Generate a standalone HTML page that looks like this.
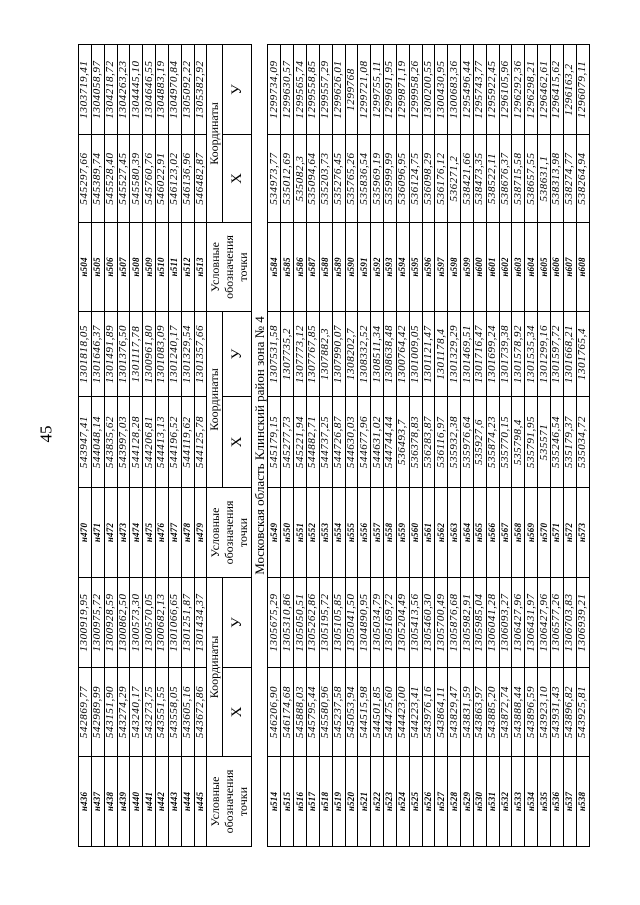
<!DOCTYPE html>
<html><head><meta charset="utf-8">
<style>
html,body{margin:0;padding:0;background:#fff;}
body{width:640px;height:905px;position:relative;overflow:hidden;}
#wrap{position:absolute;left:78px;top:847px;width:802px;height:511px;transform-origin:0 0;transform:rotate(-90deg);}
table{border-collapse:collapse;table-layout:fixed;width:802px;height:511px;font-family:"Liberation Serif",serif;color:#000;}
td{border:1px solid #000;padding:0;text-align:center;vertical-align:middle;overflow:hidden;white-space:nowrap;line-height:11px;}
tr.d td{height:11.85px;font-style:italic;font-size:11px;letter-spacing:0.6px;}
tr.d td.n{font-weight:bold;font-size:9px;letter-spacing:0.2px;}
.h{font-size:12px;line-height:14px;white-space:normal;}
.k{font-size:12px;height:15px;}
.xy{font-size:15px;height:28px;}
.band td{height:15px;font-size:13px;border-left:none;border-right:none;}
#pg{position:absolute;left:38px;top:424px;font-family:"Liberation Serif",serif;font-size:17px;transform:rotate(-90deg);}
</style></head><body>
<div id="pg">45</div>
<div id="wrap">
<table>
<colgroup><col style="width:90px"><col style="width:89px"><col style="width:90px"><col style="width:90px"><col style="width:91px"><col style="width:85px"><col style="width:89px"><col style="width:88px"><col style="width:90px"></colgroup>
<tr class="d"><td class="n">н436</td><td>542869,77</td><td>1300919,95</td><td class="n">н470</td><td>543947,41</td><td>1301818,05</td><td class="n">н504</td><td>545297,66</td><td>1303719,41</td></tr>
<tr class="d"><td class="n">н437</td><td>542989,99</td><td>1300975,72</td><td class="n">н471</td><td>544048,14</td><td>1301646,37</td><td class="n">н505</td><td>545389,74</td><td>1304058,97</td></tr>
<tr class="d"><td class="n">н438</td><td>543151,90</td><td>1300928,59</td><td class="n">н472</td><td>543835,62</td><td>1301491,89</td><td class="n">н506</td><td>545528,40</td><td>1304218,72</td></tr>
<tr class="d"><td class="n">н439</td><td>543274,29</td><td>1300862,50</td><td class="n">н473</td><td>543997,03</td><td>1301376,50</td><td class="n">н507</td><td>545527,45</td><td>1304263,23</td></tr>
<tr class="d"><td class="n">н440</td><td>543240,17</td><td>1300573,30</td><td class="n">н474</td><td>544128,28</td><td>1301117,78</td><td class="n">н508</td><td>545580,39</td><td>1304445,10</td></tr>
<tr class="d"><td class="n">н441</td><td>543273,75</td><td>1300570,05</td><td class="n">н475</td><td>544206,81</td><td>1300961,80</td><td class="n">н509</td><td>545760,76</td><td>1304646,55</td></tr>
<tr class="d"><td class="n">н442</td><td>543551,55</td><td>1300682,13</td><td class="n">н476</td><td>544413,13</td><td>1301083,09</td><td class="n">н510</td><td>546022,91</td><td>1304883,19</td></tr>
<tr class="d"><td class="n">н443</td><td>543558,05</td><td>1301066,65</td><td class="n">н477</td><td>544196,52</td><td>1301240,17</td><td class="n">н511</td><td>546123,02</td><td>1304970,84</td></tr>
<tr class="d"><td class="n">н444</td><td>543605,16</td><td>1301251,87</td><td class="n">н478</td><td>544119,62</td><td>1301329,54</td><td class="n">н512</td><td>546136,96</td><td>1305092,22</td></tr>
<tr class="d"><td class="n">н445</td><td>543672,86</td><td>1301434,37</td><td class="n">н479</td><td>544125,78</td><td>1301357,66</td><td class="n">н513</td><td>546482,87</td><td>1305382,92</td></tr>
<tr><td rowspan="2" class="h">Условные<br>обозначения<br>точки</td><td colspan="2" class="k">Координаты</td><td rowspan="2" class="h">Условные<br>обозначения<br>точки</td><td colspan="2" class="k">Координаты</td><td rowspan="2" class="h">Условные<br>обозначения<br>точки</td><td colspan="2" class="k">Координаты</td></tr>
<tr><td class="xy">X</td><td class="xy">У</td><td class="xy">X</td><td class="xy">У</td><td class="xy">X</td><td class="xy">У</td></tr>
<tr class="band"><td colspan="9">Московская область Клинский район зона № 4</td></tr>
<tr class="d"><td class="n">н514</td><td>546206,90</td><td>1305675,29</td><td class="n">н549</td><td>545179,15</td><td>1307531,58</td><td class="n">н584</td><td>534973,77</td><td>1299734,09</td></tr>
<tr class="d"><td class="n">н515</td><td>546174,68</td><td>1305310,86</td><td class="n">н550</td><td>545277,73</td><td>1307735,2</td><td class="n">н585</td><td>535012,69</td><td>1299630,57</td></tr>
<tr class="d"><td class="n">н516</td><td>545888,03</td><td>1305050,51</td><td class="n">н551</td><td>545221,94</td><td>1307773,12</td><td class="n">н586</td><td>535082,3</td><td>1299565,74</td></tr>
<tr class="d"><td class="n">н517</td><td>545795,44</td><td>1305262,86</td><td class="n">н552</td><td>544882,71</td><td>1307767,85</td><td class="n">н587</td><td>535094,64</td><td>1299558,85</td></tr>
<tr class="d"><td class="n">н518</td><td>545580,96</td><td>1305195,72</td><td class="n">н553</td><td>544737,25</td><td>1307882,3</td><td class="n">н588</td><td>535203,73</td><td>1299557,29</td></tr>
<tr class="d"><td class="n">н519</td><td>545237,58</td><td>1305105,85</td><td class="n">н554</td><td>544726,87</td><td>1307990,07</td><td class="n">н589</td><td>535276,45</td><td>1299626,01</td></tr>
<tr class="d"><td class="n">н520</td><td>545053,94</td><td>1305041,50</td><td class="n">н555</td><td>544630,03</td><td>1308202,7</td><td class="n">н590</td><td>535765,26</td><td>1299768</td></tr>
<tr class="d"><td class="n">н521</td><td>544515,98</td><td>1304890,95</td><td class="n">н556</td><td>544677,96</td><td>1308332,52</td><td class="n">н591</td><td>535836,54</td><td>1299721,08</td></tr>
<tr class="d"><td class="n">н522</td><td>544501,85</td><td>1305034,79</td><td class="n">н557</td><td>544631,02</td><td>1308511,34</td><td class="n">н592</td><td>535969,19</td><td>1299755,11</td></tr>
<tr class="d"><td class="n">н523</td><td>544475,60</td><td>1305169,72</td><td class="n">н558</td><td>544744,44</td><td>1308638,48</td><td class="n">н593</td><td>535999,99</td><td>1299691,95</td></tr>
<tr class="d"><td class="n">н524</td><td>544423,00</td><td>1305204,49</td><td class="n">н559</td><td>536493,7</td><td>1300764,42</td><td class="n">н594</td><td>536096,95</td><td>1299871,19</td></tr>
<tr class="d"><td class="n">н525</td><td>544223,41</td><td>1305413,56</td><td class="n">н560</td><td>536378,83</td><td>1301009,05</td><td class="n">н595</td><td>536124,75</td><td>1299958,26</td></tr>
<tr class="d"><td class="n">н526</td><td>543976,16</td><td>1305460,30</td><td class="n">н561</td><td>536283,87</td><td>1301121,47</td><td class="n">н596</td><td>536098,29</td><td>1300200,55</td></tr>
<tr class="d"><td class="n">н527</td><td>543864,11</td><td>1305700,49</td><td class="n">н562</td><td>536116,97</td><td>1301178,4</td><td class="n">н597</td><td>536176,12</td><td>1300430,95</td></tr>
<tr class="d"><td class="n">н528</td><td>543829,47</td><td>1305876,68</td><td class="n">н563</td><td>535932,38</td><td>1301329,29</td><td class="n">н598</td><td>536271,2</td><td>1300683,36</td></tr>
<tr class="d"><td class="n">н529</td><td>543831,59</td><td>1305982,91</td><td class="n">н564</td><td>535976,64</td><td>1301469,51</td><td class="n">н599</td><td>538421,66</td><td>1295496,44</td></tr>
<tr class="d"><td class="n">н530</td><td>543863,97</td><td>1305985,04</td><td class="n">н565</td><td>535927,6</td><td>1301716,47</td><td class="n">н600</td><td>538473,35</td><td>1295743,77</td></tr>
<tr class="d"><td class="n">н531</td><td>543885,20</td><td>1306041,28</td><td class="n">н566</td><td>535874,23</td><td>1301699,24</td><td class="n">н601</td><td>538522,11</td><td>1295922,45</td></tr>
<tr class="d"><td class="n">н532</td><td>543872,74</td><td>1306093,27</td><td class="n">н567</td><td>535770,15</td><td>1301739,38</td><td class="n">н602</td><td>538676,37</td><td>1296105,96</td></tr>
<tr class="d"><td class="n">н533</td><td>543888,44</td><td>1306427,96</td><td class="n">н568</td><td>535798,4</td><td>1301578,92</td><td class="n">н603</td><td>538715,58</td><td>1296292,36</td></tr>
<tr class="d"><td class="n">н534</td><td>543896,59</td><td>1306431,97</td><td class="n">н569</td><td>535791,95</td><td>1301535,34</td><td class="n">н604</td><td>538657,55</td><td>1296298,21</td></tr>
<tr class="d"><td class="n">н535</td><td>543923,10</td><td>1306427,96</td><td class="n">н570</td><td>535571</td><td>1301299,16</td><td class="n">н605</td><td>538631,1</td><td>1296462,61</td></tr>
<tr class="d"><td class="n">н536</td><td>543931,43</td><td>1306577,26</td><td class="n">н571</td><td>535246,54</td><td>1301597,72</td><td class="n">н606</td><td>538313,98</td><td>1296415,62</td></tr>
<tr class="d"><td class="n">н537</td><td>543896,82</td><td>1306703,83</td><td class="n">н572</td><td>535179,37</td><td>1301668,21</td><td class="n">н607</td><td>538274,77</td><td>1296163,2</td></tr>
<tr class="d"><td class="n">н538</td><td>543925,81</td><td>1306939,21</td><td class="n">н573</td><td>535034,72</td><td>1301765,4</td><td class="n">н608</td><td>538264,94</td><td>1296079,11</td></tr>
</table>
</div>
</body></html>
